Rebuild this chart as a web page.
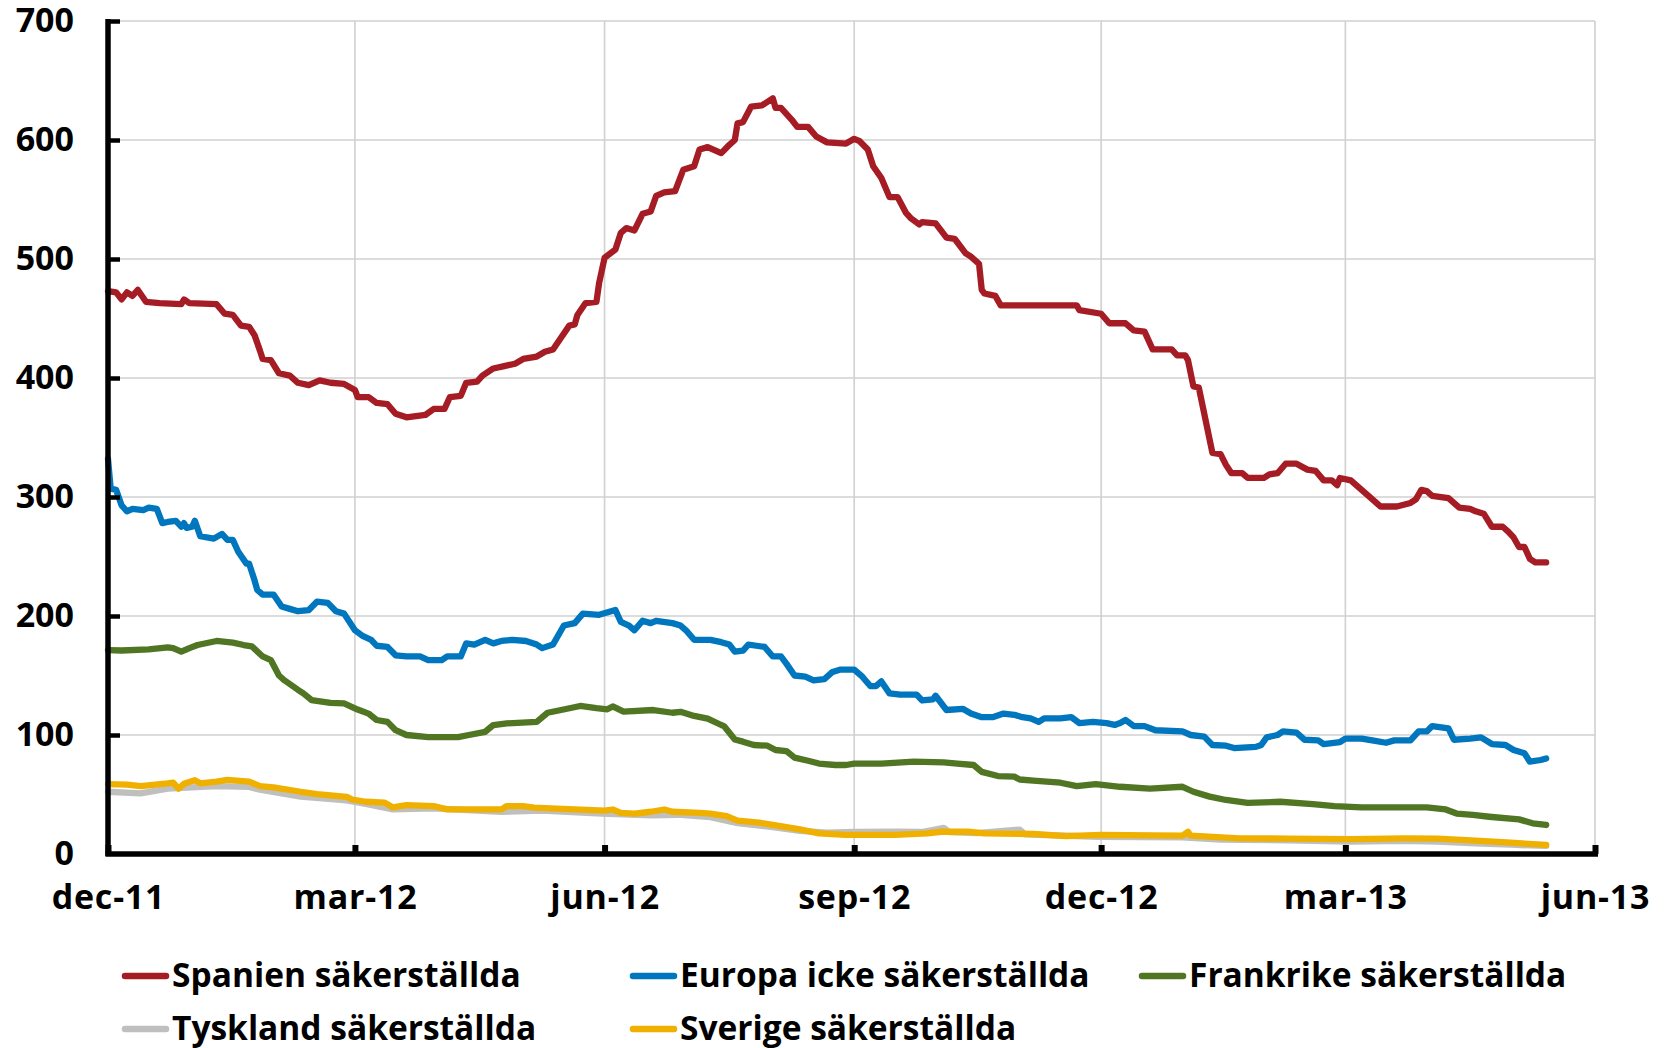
<!DOCTYPE html>
<html>
<head>
<meta charset="utf-8">
<script src="https://cdn.jsdelivr.net/npm/d3@7"></script>
<style>
  body { margin: 0; background: #fff; }
  svg { display: block; font-family: "Open Sans", sans-serif; font-weight: 700; }
</style>
</head>
<body>
<div id="chart"></div>
<script>
const width = 1667;
const height = 1048;
const margin = { left: 108, right: 72, top: 21, bottom: 194 };

const xTickDates = ["2011-12-01", "2012-03-01", "2012-06-01", "2012-09-01", "2012-12-01", "2013-03-01", "2013-06-01"];
const xTickLabels = ["dec-11", "mar-12", "jun-12", "sep-12", "dec-12", "mar-13", "jun-13"];
const yTicks = [0, 100, 200, 300, 400, 500, 600, 700];

const seriesNames = ["Spanien säkerställda", "Europa icke säkerställda", "Frankrike säkerställda", "Tyskland säkerställda", "Sverige säkerställda"];
const seriesColors = ["#a51c24", "#0076be", "#507523", "#bfbfbf", "#f0b000"];

const spanien = [
  ["2011-12-01", 473], ["2011-12-04", 472], ["2011-12-06", 466], ["2011-12-08", 472], ["2011-12-10", 469],
  ["2011-12-12", 474], ["2011-12-15", 464], ["2011-12-20", 463], ["2011-12-28", 462], ["2011-12-29", 466],
  ["2011-12-31", 463], ["2012-01-10", 462], ["2012-01-13", 454], ["2012-01-16", 453], ["2012-01-19", 444],
  ["2012-01-22", 443], ["2012-01-24", 436], ["2012-01-26", 423], ["2012-01-27", 416], ["2012-01-30", 415],
  ["2012-02-02", 404], ["2012-02-06", 402], ["2012-02-09", 396], ["2012-02-13", 394], ["2012-02-17", 398],
  ["2012-02-21", 396], ["2012-02-26", 395], ["2012-03-01", 390], ["2012-03-02", 384], ["2012-03-06", 384],
  ["2012-03-09", 379], ["2012-03-13", 378], ["2012-03-16", 370], ["2012-03-20", 367], ["2012-03-27", 369],
  ["2012-03-30", 374], ["2012-04-03", 374], ["2012-04-05", 384], ["2012-04-09", 385], ["2012-04-11", 396],
  ["2012-04-15", 397], ["2012-04-17", 402], ["2012-04-21", 408], ["2012-04-25", 410], ["2012-04-29", 412],
  ["2012-05-02", 416], ["2012-05-07", 418], ["2012-05-10", 422], ["2012-05-13", 424], ["2012-05-16", 434],
  ["2012-05-19", 444], ["2012-05-21", 445], ["2012-05-22", 453], ["2012-05-25", 463], ["2012-05-29", 464],
  ["2012-05-30", 480], ["2012-06-01", 501], ["2012-06-05", 508], ["2012-06-07", 522], ["2012-06-09", 526],
  ["2012-06-12", 524], ["2012-06-15", 538], ["2012-06-18", 540], ["2012-06-20", 553], ["2012-06-23", 556],
  ["2012-06-27", 557], ["2012-06-30", 575], ["2012-07-04", 578], ["2012-07-06", 592], ["2012-07-09", 594],
  ["2012-07-14", 589], ["2012-07-17", 596], ["2012-07-19", 600], ["2012-07-20", 614], ["2012-07-22", 615],
  ["2012-07-25", 628], ["2012-07-29", 629], ["2012-08-02", 635], ["2012-08-03", 627], ["2012-08-05", 627],
  ["2012-08-09", 617], ["2012-08-11", 611], ["2012-08-15", 611], ["2012-08-18", 603], ["2012-08-22", 598],
  ["2012-08-29", 597], ["2012-09-01", 601], ["2012-09-03", 599], ["2012-09-06", 592], ["2012-09-08", 578],
  ["2012-09-11", 568], ["2012-09-14", 552], ["2012-09-17", 552], ["2012-09-20", 539], ["2012-09-22", 534],
  ["2012-09-25", 529], ["2012-09-26", 531], ["2012-10-01", 530], ["2012-10-05", 518], ["2012-10-08", 517],
  ["2012-10-12", 505], ["2012-10-14", 502], ["2012-10-17", 496], ["2012-10-18", 474], ["2012-10-19", 471],
  ["2012-10-23", 469], ["2012-10-25", 461], ["2012-11-10", 461], ["2012-11-22", 461], ["2012-11-23", 457],
  ["2012-12-01", 454], ["2012-12-04", 446], ["2012-12-10", 446], ["2012-12-13", 440], ["2012-12-17", 439],
  ["2012-12-20", 424], ["2012-12-27", 424], ["2012-12-29", 419], ["2013-01-01", 419], ["2013-01-02", 415],
  ["2013-01-04", 393], ["2013-01-06", 392], ["2013-01-11", 337], ["2013-01-14", 336], ["2013-01-16", 327],
  ["2013-01-18", 320], ["2013-01-22", 320], ["2013-01-24", 316], ["2013-01-30", 316], ["2013-02-01", 319],
  ["2013-02-04", 320], ["2013-02-07", 328], ["2013-02-11", 328], ["2013-02-15", 323], ["2013-02-18", 322],
  ["2013-02-21", 314], ["2013-02-24", 314], ["2013-02-26", 310], ["2013-02-27", 316], ["2013-03-03", 314],
  ["2013-03-07", 306], ["2013-03-09", 302], ["2013-03-14", 292], ["2013-03-20", 292], ["2013-03-25", 295],
  ["2013-03-27", 298], ["2013-03-29", 306], ["2013-03-31", 305], ["2013-04-02", 301], ["2013-04-08", 299],
  ["2013-04-12", 291], ["2013-04-16", 290], ["2013-04-18", 288], ["2013-04-21", 286], ["2013-04-24", 275],
  ["2013-04-28", 275], ["2013-04-30", 271], ["2013-05-02", 266], ["2013-05-04", 258], ["2013-05-06", 258],
  ["2013-05-08", 248], ["2013-05-10", 245], ["2013-05-14", 245]
];

const europa = [
  ["2011-12-01", 332], ["2011-12-02", 307], ["2011-12-04", 306], ["2011-12-06", 293], ["2011-12-08", 288],
  ["2011-12-10", 290], ["2011-12-14", 289], ["2011-12-16", 291], ["2011-12-19", 290], ["2011-12-21", 278],
  ["2011-12-23", 279], ["2011-12-26", 280], ["2011-12-28", 275], ["2011-12-29", 278], ["2011-12-30", 274],
  ["2012-01-01", 275], ["2012-01-02", 280], ["2012-01-04", 267], ["2012-01-09", 265], ["2012-01-12", 269],
  ["2012-01-14", 264], ["2012-01-16", 264], ["2012-01-18", 254], ["2012-01-21", 244], ["2012-01-22", 244],
  ["2012-01-24", 230], ["2012-01-25", 222], ["2012-01-27", 218], ["2012-01-31", 218], ["2012-02-03", 208],
  ["2012-02-06", 206], ["2012-02-09", 204], ["2012-02-13", 205], ["2012-02-16", 212], ["2012-02-20", 211],
  ["2012-02-23", 204], ["2012-02-26", 202], ["2012-03-01", 188], ["2012-03-04", 183], ["2012-03-07", 180],
  ["2012-03-09", 175], ["2012-03-13", 174], ["2012-03-16", 167], ["2012-03-20", 166], ["2012-03-25", 166],
  ["2012-03-28", 163], ["2012-04-02", 163], ["2012-04-04", 166], ["2012-04-09", 166], ["2012-04-11", 177],
  ["2012-04-14", 176], ["2012-04-18", 180], ["2012-04-21", 177], ["2012-04-24", 179], ["2012-04-28", 180],
  ["2012-05-03", 179], ["2012-05-07", 176], ["2012-05-09", 173], ["2012-05-13", 176], ["2012-05-15", 184],
  ["2012-05-17", 192], ["2012-05-21", 194], ["2012-05-24", 202], ["2012-05-30", 201], ["2012-06-05", 205],
  ["2012-06-07", 195], ["2012-06-10", 192], ["2012-06-12", 188], ["2012-06-15", 196], ["2012-06-18", 194],
  ["2012-06-20", 196], ["2012-06-26", 194], ["2012-06-29", 192], ["2012-07-01", 188], ["2012-07-04", 180],
  ["2012-07-10", 180], ["2012-07-14", 178], ["2012-07-17", 176], ["2012-07-19", 170], ["2012-07-22", 171],
  ["2012-07-24", 176], ["2012-07-27", 175], ["2012-07-30", 174], ["2012-08-02", 166], ["2012-08-05", 166],
  ["2012-08-07", 160], ["2012-08-10", 150], ["2012-08-14", 149], ["2012-08-17", 146], ["2012-08-21", 147],
  ["2012-08-24", 153], ["2012-08-27", 155], ["2012-09-01", 155], ["2012-09-04", 149], ["2012-09-07", 141],
  ["2012-09-09", 141], ["2012-09-11", 145], ["2012-09-14", 135], ["2012-09-18", 134], ["2012-09-24", 134],
  ["2012-09-26", 129], ["2012-09-30", 130], ["2012-10-01", 133], ["2012-10-05", 121], ["2012-10-11", 122],
  ["2012-10-14", 118], ["2012-10-18", 115], ["2012-10-22", 115], ["2012-10-26", 118], ["2012-10-30", 117],
  ["2012-11-02", 115], ["2012-11-05", 114], ["2012-11-08", 111], ["2012-11-10", 114], ["2012-11-16", 114],
  ["2012-11-20", 115], ["2012-11-23", 110], ["2012-11-28", 111], ["2012-12-03", 110], ["2012-12-06", 108.5],
  ["2012-12-08", 110], ["2012-12-10", 112.6], ["2012-12-13", 107.5], ["2012-12-17", 107.5], ["2012-12-21", 104],
  ["2012-12-31", 103], ["2013-01-03", 100], ["2013-01-08", 98.6], ["2013-01-11", 91.6], ["2013-01-16", 91],
  ["2013-01-19", 89], ["2013-01-27", 90], ["2013-01-29", 91.6], ["2013-01-31", 98], ["2013-02-04", 100],
  ["2013-02-06", 103], ["2013-02-11", 102], ["2013-02-14", 96], ["2013-02-19", 95.5], ["2013-02-21", 92.4],
  ["2013-02-27", 94], ["2013-03-01", 97], ["2013-03-07", 97], ["2013-03-12", 95], ["2013-03-16", 93.5],
  ["2013-03-19", 95.5], ["2013-03-25", 95.5], ["2013-03-28", 103], ["2013-03-31", 103], ["2013-04-02", 107.5],
  ["2013-04-08", 105.5], ["2013-04-10", 96], ["2013-04-16", 97], ["2013-04-20", 98], ["2013-04-24", 92.4],
  ["2013-04-29", 91.6], ["2013-05-02", 87.4], ["2013-05-06", 84.6], ["2013-05-08", 77.6], ["2013-05-12", 79],
  ["2013-05-14", 80.3]
];

const frankrike = [
  ["2011-12-01", 171.4], ["2011-12-06", 171], ["2011-12-16", 172], ["2011-12-23", 173.6], ["2011-12-25", 173],
  ["2011-12-28", 170], ["2011-12-31", 173], ["2012-01-03", 175.6], ["2012-01-10", 179], ["2012-01-16", 177.6],
  ["2012-01-20", 175.6], ["2012-01-23", 174.5], ["2012-01-27", 166], ["2012-01-30", 163], ["2012-02-02", 150],
  ["2012-02-04", 146], ["2012-02-09", 138], ["2012-02-11", 135], ["2012-02-14", 129.4], ["2012-02-21", 127],
  ["2012-02-26", 126.5], ["2012-03-02", 121.4], ["2012-03-06", 118], ["2012-03-09", 112.6], ["2012-03-13", 111],
  ["2012-03-16", 104], ["2012-03-20", 100], ["2012-03-28", 98.2], ["2012-04-08", 98.2], ["2012-04-12", 100],
  ["2012-04-18", 102.7], ["2012-04-21", 108.4], ["2012-04-26", 109.8], ["2012-05-07", 111], ["2012-05-11", 118.7],
  ["2012-05-16", 121], ["2012-05-23", 124.4], ["2012-05-29", 122.5], ["2012-06-02", 121.6], ["2012-06-04", 124],
  ["2012-06-08", 119.6], ["2012-06-19", 121], ["2012-06-26", 118.7], ["2012-06-29", 119.5], ["2012-07-04", 116],
  ["2012-07-09", 113.8], ["2012-07-14", 108.4], ["2012-07-15", 107.5], ["2012-07-19", 96.2], ["2012-07-22", 94.4],
  ["2012-07-26", 91.6], ["2012-07-31", 91], ["2012-08-03", 87.4], ["2012-08-07", 86.5], ["2012-08-10", 81],
  ["2012-08-15", 78.4], ["2012-08-19", 76], ["2012-08-25", 74.8], ["2012-08-29", 74.8], ["2012-09-01", 76],
  ["2012-09-11", 76], ["2012-09-23", 77.6], ["2012-10-04", 77], ["2012-10-09", 76], ["2012-10-15", 74.8],
  ["2012-10-18", 69], ["2012-10-24", 65.5], ["2012-10-30", 65], ["2012-11-01", 62.6], ["2012-11-06", 61.6],
  ["2012-11-16", 59.9], ["2012-11-22", 57], ["2012-11-29", 58.8], ["2012-12-08", 56.5], ["2012-12-19", 55],
  ["2012-12-31", 56.5], ["2013-01-04", 52.3], ["2013-01-10", 48.2], ["2013-01-16", 45.4], ["2013-01-24", 43],
  ["2013-02-05", 43.9], ["2013-02-17", 42], ["2013-02-25", 40.3], ["2013-03-07", 39.2], ["2013-03-31", 39.2],
  ["2013-04-07", 37.4], ["2013-04-11", 34], ["2013-04-17", 32.8], ["2013-04-23", 31.3], ["2013-05-04", 29.1],
  ["2013-05-09", 25.8], ["2013-05-14", 24.4]
];

const tyskland = [
  ["2011-12-01", 52.3], ["2011-12-13", 51], ["2011-12-23", 54.9], ["2012-01-10", 57], ["2012-01-22", 56.4],
  ["2012-01-26", 54], ["2012-02-10", 48.2], ["2012-02-27", 45], ["2012-03-05", 42], ["2012-03-15", 37.5],
  ["2012-03-30", 38.4], ["2012-04-24", 35.5], ["2012-05-09", 36.5], ["2012-05-31", 34], ["2012-06-18", 32.5],
  ["2012-06-28", 33], ["2012-07-10", 31], ["2012-07-20", 26], ["2012-08-02", 22.5], ["2012-08-12", 19.5],
  ["2012-08-22", 18], ["2012-09-01", 18.5], ["2012-09-16", 18.8], ["2012-09-26", 18.5], ["2012-10-04", 22],
  ["2012-10-06", 18.5], ["2012-10-16", 17.5], ["2012-11-01", 20.5], ["2012-11-03", 16.5], ["2012-11-30", 14.5],
  ["2012-12-31", 14], ["2013-01-14", 12], ["2013-02-08", 11.5], ["2013-03-03", 10.5], ["2013-03-23", 11],
  ["2013-04-04", 10.5], ["2013-04-18", 9], ["2013-05-01", 7.8], ["2013-05-14", 6.8]
];

const sverige = [
  ["2011-12-01", 58.8], ["2011-12-08", 58.3], ["2011-12-13", 57], ["2011-12-23", 59.4], ["2011-12-25", 60],
  ["2011-12-27", 55], ["2011-12-29", 59], ["2012-01-02", 62], ["2012-01-04", 59.4], ["2012-01-10", 60.8],
  ["2012-01-14", 62.2], ["2012-01-22", 60.8], ["2012-01-26", 57], ["2012-01-31", 56], ["2012-02-10", 52.3],
  ["2012-02-16", 50.4], ["2012-02-27", 48], ["2012-02-29", 45.8], ["2012-03-05", 43.9], ["2012-03-12", 43.1],
  ["2012-03-15", 39.1], ["2012-03-20", 41], ["2012-03-30", 40.3], ["2012-04-04", 37.5], ["2012-04-24", 37.5],
  ["2012-04-26", 40.3], ["2012-05-02", 40.3], ["2012-05-06", 39], ["2012-05-12", 38.4], ["2012-05-21", 37.5],
  ["2012-06-01", 36.4], ["2012-06-04", 37.4], ["2012-06-07", 34.6], ["2012-06-12", 34], ["2012-06-18", 35.5],
  ["2012-06-23", 37.4], ["2012-06-26", 35.5], ["2012-07-06", 34.6], ["2012-07-10", 34], ["2012-07-16", 31.9],
  ["2012-07-20", 28], ["2012-07-28", 26.3], ["2012-08-02", 24.4], ["2012-08-12", 20.7], ["2012-08-19", 17.4],
  ["2012-08-29", 16], ["2012-09-16", 16], ["2012-09-28", 17.4], ["2012-10-03", 18.7], ["2012-10-13", 18.7],
  ["2012-10-19", 17.4], ["2012-11-06", 16.8], ["2012-11-18", 15.1], ["2012-12-01", 16], ["2012-12-20", 15.7],
  ["2012-12-31", 15.4], ["2013-01-02", 18.7], ["2013-01-03", 15.4], ["2013-01-21", 13.1], ["2013-02-08", 13],
  ["2013-03-03", 12.5], ["2013-03-23", 13.1], ["2013-04-04", 13], ["2013-04-18", 11.2], ["2013-05-01", 9.5],
  ["2013-05-14", 7.6]
];

const seriesValues = [spanien, europa, frankrike, tyskland, sverige];

const parseDate = d3.timeParse("%Y-%m-%d");

const xScale = d3
  .scaleTime()
  .domain([parseDate(xTickDates[0]), parseDate(xTickDates[xTickDates.length - 1])])
  .range([margin.left, width - margin.right]);

const yScale = d3
  .scaleLinear()
  .domain([0, 700])
  .range([height - margin.bottom, margin.top]);

const svg = d3
  .select("#chart")
  .append("svg")
  .attr("width", width)
  .attr("height", height);

svg.append("rect").attr("width", width).attr("height", height).attr("fill", "#fff");

// grid
const grid = svg.append("g").attr("stroke", "#d0d0d0").attr("stroke-width", 1.6);
grid
  .selectAll("line.h")
  .data(yTicks.slice(1))
  .enter()
  .append("line")
  .attr("x1", margin.left)
  .attr("x2", width - margin.right)
  .attr("y1", d => yScale(d))
  .attr("y2", d => yScale(d));
grid
  .selectAll("line.v")
  .data(xTickDates.slice(1))
  .enter()
  .append("line")
  .attr("x1", d => xScale(parseDate(d)))
  .attr("x2", d => xScale(parseDate(d)))
  .attr("y1", yScale(700))
  .attr("y2", yScale(0));

// lines
const line = d3
  .line()
  .x(d => xScale(parseDate(d[0])))
  .y(d => yScale(d[1]));

seriesValues.forEach((values, i) => {
  svg
    .append("path")
    .datum(values)
    .attr("fill", "none")
    .attr("stroke", seriesColors[i])
    .attr("stroke-width", 6.3)
    .attr("stroke-linejoin", "round")
    .attr("stroke-linecap", "round")
    .attr("d", line);
});

// axes
const xAxis = d3
  .axisBottom(xScale)
  .tickValues(xTickDates.map(parseDate))
  .tickFormat((d, i) => xTickLabels[i])
  .tickSizeInner(-9)
  .tickSizeOuter(0)
  .tickPadding(31);

const yAxis = d3
  .axisLeft(yScale)
  .tickValues(yTicks)
  .tickSizeInner(-12)
  .tickSizeOuter(0)
  .tickPadding(34);

const gx = svg
  .append("g")
  .attr("transform", `translate(0,${yScale(0)})`)
  .call(xAxis);

const gy = svg
  .append("g")
  .attr("transform", `translate(${margin.left},0)`)
  .call(yAxis);

[gx, gy].forEach(g => {
  g.select(".domain").remove();
  g.selectAll("text")
    .attr("fill", "#000")
    .style("font-family", "'Open Sans', sans-serif")
    .style("font-weight", 700)
    .style("font-size", "34px");
});
gx.selectAll("text").style("letter-spacing", "0.8px");
gx.selectAll(".tick line").attr("stroke", "#000").attr("stroke-width", 6);
gy.selectAll(".tick line").attr("stroke", "#000").attr("stroke-width", 4.5);
gy.selectAll(".tick").filter(d => d === 0).select("line").remove();

svg
  .append("line")
  .attr("x1", margin.left)
  .attr("x2", margin.left)
  .attr("y1", yScale(700) - 2)
  .attr("y2", yScale(0) + 2)
  .attr("stroke", "#000")
  .attr("stroke-width", 5.5);

svg
  .append("line")
  .attr("x1", margin.left - 2.5)
  .attr("x2", width - margin.right + 3)
  .attr("y1", yScale(0))
  .attr("y2", yScale(0))
  .attr("stroke", "#000")
  .attr("stroke-width", 5.5);

// legend
const legendX = [122, 630, 1139];
const legendY = [976, 1029];
const legend = svg.append("g");
seriesNames.forEach((name, i) => {
  const col = i % 3;
  const row = Math.floor(i / 3);
  const lx = legendX[col];
  const ly = legendY[row];
  legend
    .append("line")
    .attr("x1", lx + 3)
    .attr("x2", lx + 44)
    .attr("y1", ly)
    .attr("y2", ly)
    .attr("stroke", seriesColors[i])
    .attr("stroke-width", 6.5)
    .attr("stroke-linecap", "round");
  legend
    .append("text")
    .attr("x", lx + 50)
    .attr("y", ly + 11)
    .style("font-size", "33.5px")
    .attr("fill", "#000")
    .text(name);
});
</script>
</body>
</html>
